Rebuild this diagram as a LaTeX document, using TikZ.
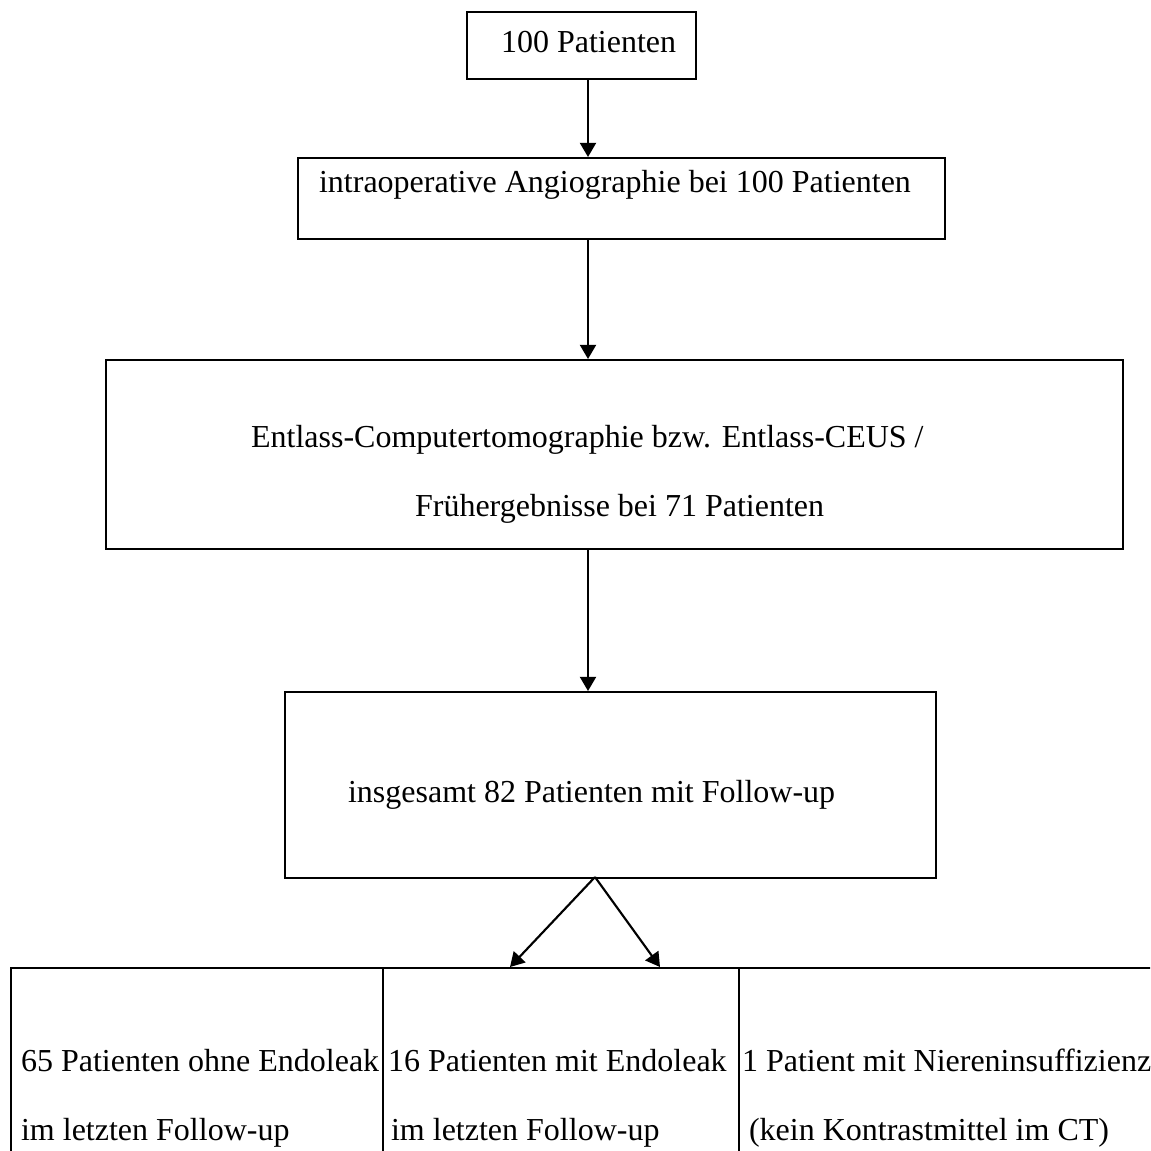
\documentclass[tikz,border=0pt]{standalone}
\usepackage{fontspec}
\setmainfont{Liberation Serif}
\usetikzlibrary{arrows.meta,positioning}

\begin{document}
\begin{tikzpicture}[x=0.375pt,y=-0.375pt,->,>={Triangle[length=5.3pt,width=6pt]},line width=0.8pt,
    box/.style={draw,rectangle,inner sep=0pt,anchor=north west},
    txt/.style={inner sep=0pt,anchor=base west,font=\fontsize{12}{14}\selectfont}]
    \useasboundingbox (0,0) rectangle (1150,1151);
    \clip (0,0) rectangle (1150,1151);

    \node [box,minimum width=229*0.375pt,minimum height=67*0.375pt]  (start) at (466,11) {};
    \node [box,minimum width=647*0.375pt,minimum height=81*0.375pt]  (angio) at (297,157) {};
    \node [box,minimum width=1017*0.375pt,minimum height=189*0.375pt] (ct) at (105,359) {};
    \node [box,minimum width=651*0.375pt,minimum height=186*0.375pt] (fu) at (284,691) {};
    \node [box,minimum width=372*0.375pt,minimum height=300*0.375pt] (ohne) at (10,967) {};
    \node [box,minimum width=356*0.375pt,minimum height=300*0.375pt] (mit) at (382,967) {};
    \node [box,minimum width=460*0.375pt,minimum height=300*0.375pt] (niere) at (738,967) {};

    \node [txt] (t1) at (500,53)  {100 Patienten};
    \node [txt] (t2) at (318,193) {intraoperative Angiographie bei 100 Patienten};
    \node [txt] (t3) at (250,447) {Entlass-Computertomographie bzw. Entlass-CEUS /};
    \node [txt] (t4) at (414,516) {Frühergebnisse bei 71 Patienten};
    \node [txt] (t5) at (347,802) {insgesamt 82 Patienten mit Follow-up};
    \node [txt] (t6) at (20,1071)  {65 Patienten ohne Endoleak};
    \node [txt] (t7) at (20,1140)  {im letzten Follow-up};
    \node [txt] (t8) at (387,1071) {16 Patienten mit Endoleak};
    \node [txt] (t9) at (390,1140) {im letzten Follow-up};
    \node [txt] (t10) at (741,1071) {1 Patient mit Niereninsuffizienz};
    \node [txt] (t11) at (748,1140) {(kein Kontrastmittel im CT)};

    \coordinate (axis) at (588,0);
    \coordinate (fork) at (595,877);
    \coordinate (lt) at (510,967);
    \coordinate (rt) at (660,967);

    \path (start.south -| axis) edge (angio.north -| axis)
          (angio.south -| axis) edge (ct.north -| axis)
          (ct.south -| axis) edge (fu.north -| axis)
          (fork) edge (lt)
          (fork) edge (rt);
\end{tikzpicture}
\end{document}
